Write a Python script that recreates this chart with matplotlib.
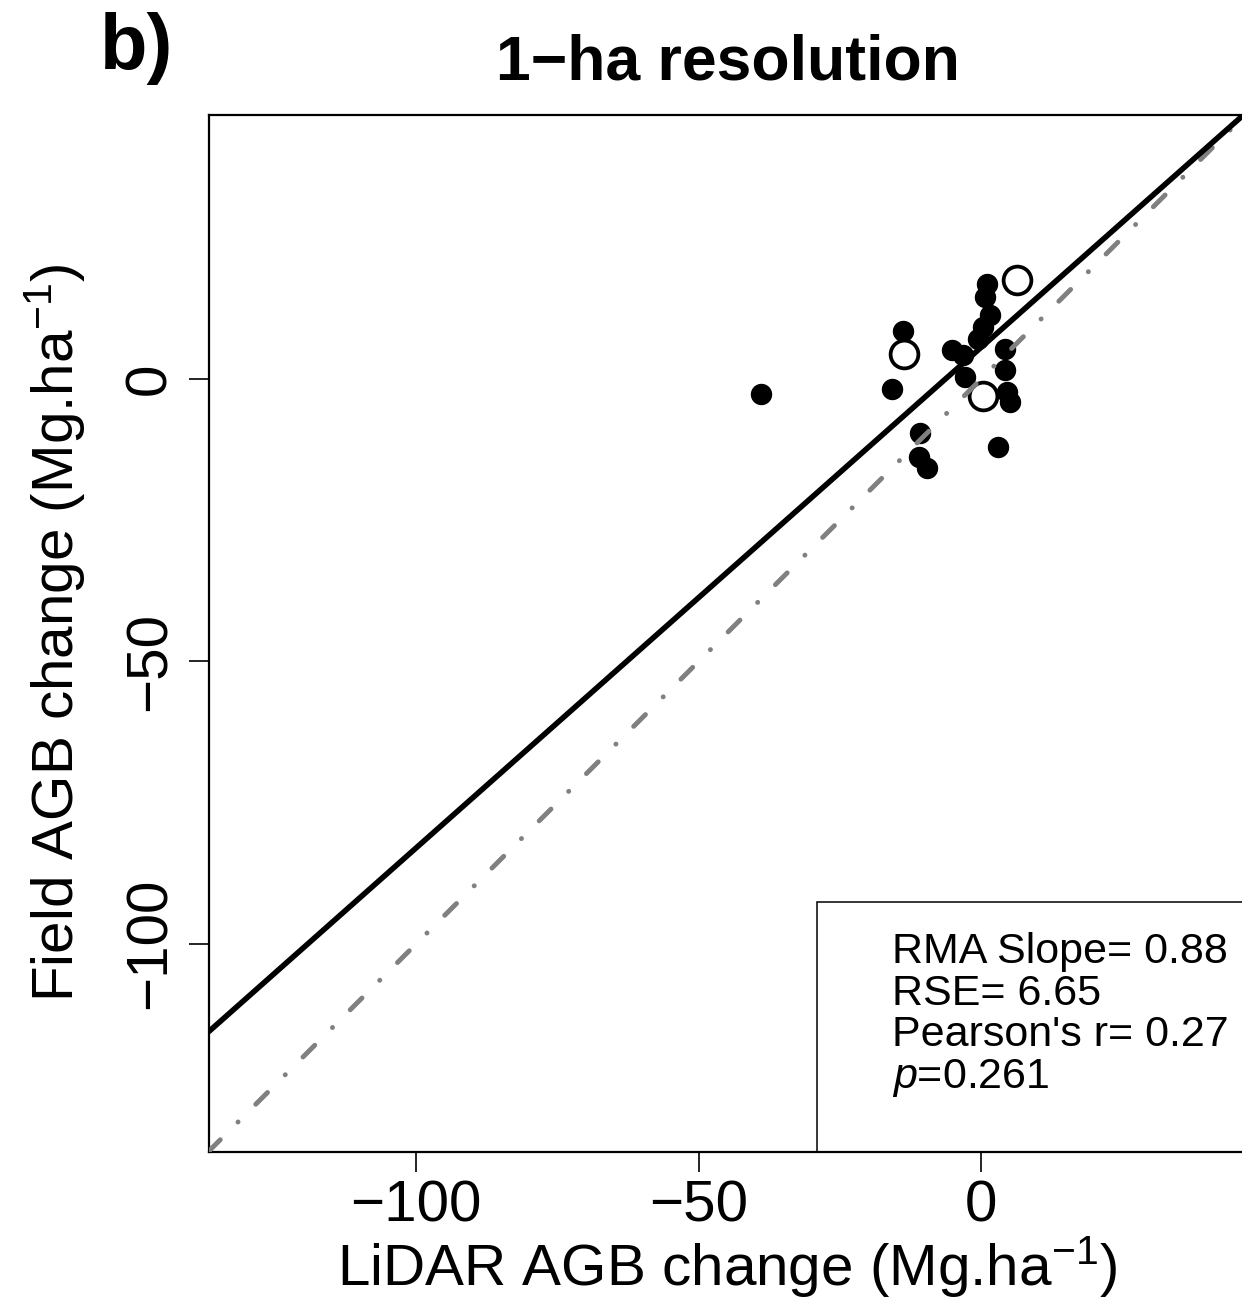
import matplotlib
matplotlib.use("Agg")
import matplotlib.pyplot as plt
from matplotlib.patches import Rectangle

plt.rcParams['font.family'] = ['Liberation Sans', 'DejaVu Sans']
plt.rcParams['mathtext.fontset'] = 'custom'
plt.rcParams['mathtext.rm'] = 'Liberation Sans'
plt.rcParams['mathtext.it'] = 'Liberation Sans:italic'
plt.rcParams['lines.scale_dashes'] = False

# field vs lidar AGB change, filled = regular plots
lidar_filled = [-39.0, -13.8, -15.8, 1.0, 0.7, 1.6, 0.4, -0.5, -5.2, -3.1, -2.8,
                4.3, 4.3, 4.6, 5.1, -10.8, -11.0, -9.5, 3.1]
field_filled = [-2.7, 8.5, -1.8, 16.8, 14.6, 11.3, 9.3, 7.2, 5.1, 4.3, 0.4,
                5.4, 1.6, -2.2, -4.0, -9.5, -13.8, -15.8, -12.0]
# open circles
lidar_open = [-13.6, 6.4, 0.4]
field_open = [4.4, 17.5, -3.0]

rma_slope = 0.886
rma_intercept = 5.6
axis_lim = (-136.8, 46.8)
x_ticks = [-100, -50, 0]
y_ticks = [-100, -50, 0]

stats_lines = ["RMA Slope= 0.88", "RSE= 6.65", "Pearson's r= 0.27", "$p$=0.261"]

W, H = 1242, 1298
fig = plt.figure(figsize=(W / 100, H / 100), dpi=100)


def fx(px):
    return px / W


def fy(py):
    return 1 - py / H


ax = fig.add_axes([fx(208.5), fy(1151.5), fx(1245.1) - fx(208.5), fy(115) - fy(1151.5)])
ax.set_xlim(axis_lim)
ax.set_ylim(axis_lim)

ax.plot(lidar_filled, field_filled, 'o', color='black', markersize=14.4, zorder=2)
ax.plot(lidar_open, field_open, 'o', markerfacecolor='white', markeredgecolor='black',
        markersize=20, markeredgewidth=2.7, zorder=3)

# 1:1 line
ax.plot(axis_lim, axis_lim, color='#808080', lw=3.5, dashes=(12, 18, 0.1, 18),
        dash_capstyle='round', zorder=4)
# RMA fit
fit_x = list(axis_lim)
fit_y = [rma_slope * v + rma_intercept for v in fit_x]
ax.plot(fit_x, fit_y, color='black', lw=4, solid_capstyle='butt', zorder=5)

for s in ax.spines.values():
    s.set_linewidth(1.6)
ax.set_xticks(x_ticks)
ax.set_yticks(y_ticks)
ax.tick_params(length=14.4, width=1.2, labelsize=42, pad=6)
ax.tick_params(axis='y', pad=8)
for lab in ax.get_yticklabels():
    lab.set_rotation(90)
    lab.set_va('center')

# stats box
ax.add_patch(Rectangle((fx(817), fy(1151.5)), fx(1245.1) - fx(817), fy(902) - fy(1151.5),
                       transform=fig.transFigure, fill=False, lw=1.1,
                       edgecolor='black', zorder=6, clip_on=False))
for i, line in enumerate(stats_lines):
    fig.text(fx(892), fy(963.5 + i * 41.4), line, fontsize=31, va='baseline', ha='left')

fig.text(fx(727), fy(1285), 'LiDAR AGB change (Mg.ha$^{-1}$)', fontsize=42,
         ha='center', va='baseline')
fig.text(fx(73), fy(633), 'Field AGB change (Mg.ha$^{-1}$)', fontsize=42,
         ha='center', va='baseline', rotation=90, rotation_mode='anchor')

fig.text(fx(728), fy(80), '1\u2212ha resolution', fontsize=45, fontweight='bold',
         ha='center', va='baseline')
fig.text(fx(100), fy(69), 'b)', fontsize=56, fontweight='bold', ha='left', va='baseline')

fig.savefig('out.png', dpi=100)
